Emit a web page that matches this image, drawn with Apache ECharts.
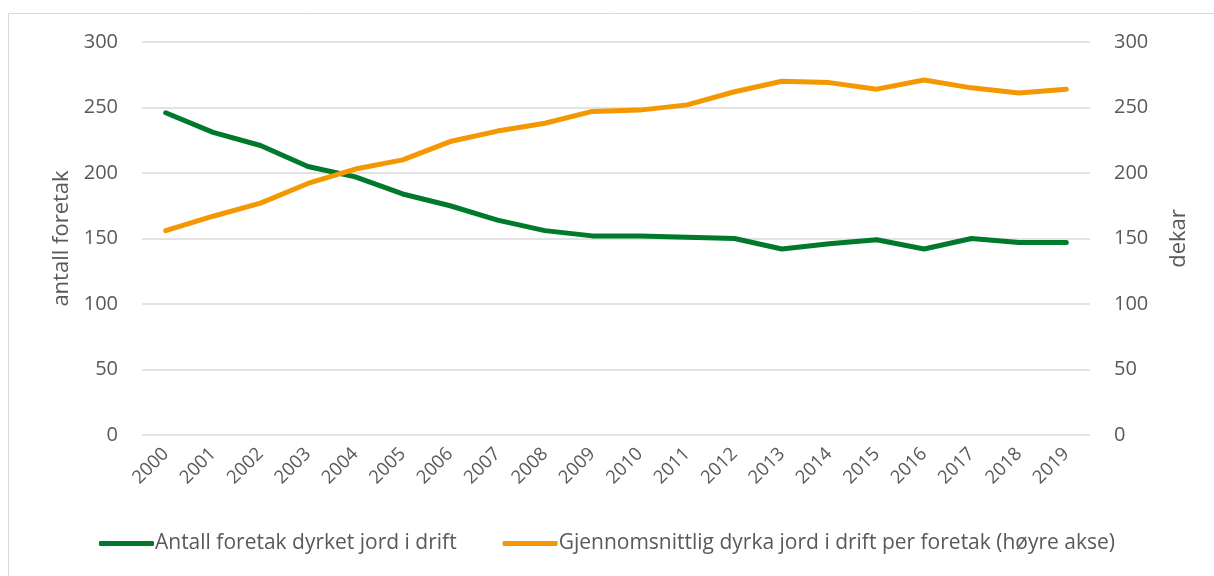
<!DOCTYPE html>
<html><head><meta charset="utf-8">
<script src="https://cdn.jsdelivr.net/npm/echarts@6/dist/echarts.min.js"></script>
<style>html,body{margin:0;padding:0;background:#fff}#c{width:1214px;height:576px}</style>
</head><body><div id="c"></div>
<script>
const years = ['2000','2001','2002','2003','2004','2005','2006','2007','2008','2009','2010','2011','2012','2013','2014','2015','2016','2017','2018','2019'];
const antallForetak = [246,231,221,205,197,184,175,164,156,152,152,151,150,142,146,149,142,150,147,147];
const dekarPerForetak = [156,167,177,192,203,210,224,232,238,247,248,252,262,270,269,264,271,265,261,264];
const seriesNames = ['Antall foretak dyrket jord i drift','Gjennomsnittlig dyrka jord i drift per foretak (høyre akse)'];
const leftName = 'antall foretak';
const rightName = 'dekar';

const font = '"Open Sans", "Noto Sans", sans-serif';
const txt = '#595959';
const chart = echarts.init(document.getElementById('c'), null, {renderer:'canvas'});
chart.setOption({
  animation:false,
  backgroundColor:'#fff',
  textStyle:{fontFamily:font},
  graphic:[{type:'rect',shape:{x:8.5,y:13.5,width:1220,height:580},style:{fill:'none',stroke:'#d9d9d9',lineWidth:1},z:-1}],
  grid:{left:142,right:124,top:42,bottom:141},
  legend:{
    bottom:17,left:'center',itemWidth:55,itemHeight:5,itemGap:46,
    icon:'roundRect',
    textStyle:{color:txt,fontSize:21,fontFamily:font,padding:[0,0,0,-4]},
    data:seriesNames
  },
  xAxis:{
    type:'category',data:years,boundaryGap:true,
    axisLine:{show:false},axisTick:{show:false},
    axisLabel:{color:txt,fontSize:18.5,rotate:45,margin:16,interval:0,fontFamily:font}
  },
  yAxis:[
    {type:'value',min:0,max:300,interval:50,name:leftName,nameLocation:'middle',nameGap:68,nameRotate:90,
     nameTextStyle:{color:txt,fontSize:22,fontFamily:font},
     axisLabel:{color:txt,fontSize:20,margin:24,fontFamily:font},
     splitLine:{lineStyle:{color:'#d9d9d9',width:1.5}},axisLine:{show:false},axisTick:{show:false}},
    {type:'value',min:0,max:300,interval:50,name:rightName,nameLocation:'middle',nameGap:78,nameRotate:90,
     nameTextStyle:{color:txt,fontSize:22,fontFamily:font},
     axisLabel:{color:txt,fontSize:20,margin:24,fontFamily:font},
     splitLine:{show:false},axisLine:{show:false},axisTick:{show:false}}
  ],
  series:[
    {name:seriesNames[0],type:'line',yAxisIndex:0,data:antallForetak,symbol:'none',
     lineStyle:{color:'#007A2A',width:5,cap:'round',join:'round'},itemStyle:{color:'#007A2A'}},
    {name:seriesNames[1],type:'line',yAxisIndex:1,data:dekarPerForetak,symbol:'none',
     lineStyle:{color:'#F39800',width:5,cap:'round',join:'round'},itemStyle:{color:'#F39800'}}
  ]
});
</script></body></html>
